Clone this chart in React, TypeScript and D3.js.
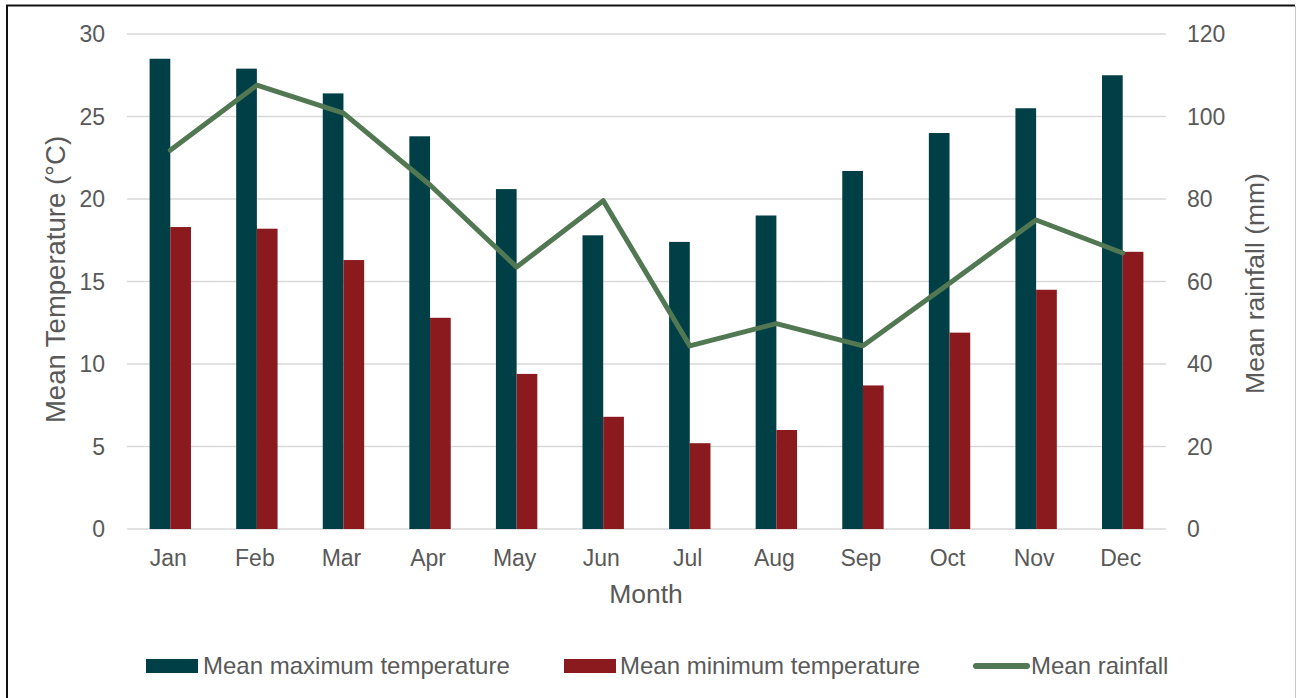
import React from "react";
import * as d3 from "d3";

const months = ["Jan", "Feb", "Mar", "Apr", "May", "Jun", "Jul", "Aug", "Sep", "Oct", "Nov", "Dec"];
const maxTemp = [28.5, 27.9, 26.4, 23.8, 20.6, 17.8, 17.4, 19.0, 21.7, 24.0, 25.5, 27.5];
const minTemp = [18.3, 18.2, 16.3, 12.8, 9.4, 6.8, 5.2, 6.0, 8.7, 11.9, 14.5, 16.8];
const rainfall = [91.8, 107.6, 100.8, 83.4, 63.5, 79.6, 44.4, 49.8, 44.4, 59.6, 74.9, 66.9];
const leftTicks = [0, 5, 10, 15, 20, 25, 30];
const rightTicks = [0, 20, 40, 60, 80, 100, 120];

const W = 1298;
const H = 698;
const plot = { left: 127, right: 1166, top: 34, bottom: 529 };
const FONT = "'Liberation Sans', Arial, sans-serif";
const TEXT = "#595959";
const C_MAX = "#013f46";
const C_MIN = "#8a1a1e";
const C_RAIN = "#517853";

export default function App() {
  const x = d3.scaleBand<string>().domain(months).range([plot.left, plot.right]).paddingInner(0).paddingOuter(0);
  const yL = d3.scaleLinear().domain([0, 30]).range([plot.bottom, plot.top]);
  const yR = d3.scaleLinear().domain([0, 120]).range([plot.bottom, plot.top]);
  const bw = x.bandwidth();
  const barW = bw * 0.239;
  const line = d3
    .line<number>()
    .x((_, i) => (x(months[i]) as number) + bw / 2)
    .y((d) => yR(d));

  const legY = 659;

  return (
    <div style={{ position: "fixed", left: 0, top: 0 }}>
      <svg width={W} height={H} style={{ display: "block", background: "#fff" }} fontFamily={FONT}>
        {/* frame */}
        <line x1={6} y1={5.5} x2={1295} y2={5.5} stroke="#111" strokeWidth={2} />
        <line x1={7} y1={5} x2={7} y2={H} stroke="#111" strokeWidth={2} />
        <line x1={1295.5} y1={6} x2={1295.5} y2={H} stroke="#c8c8c8" strokeWidth={1} />

        {/* gridlines */}
        {leftTicks.map((t) => (
          <line key={"g" + t} x1={plot.left} x2={plot.right} y1={yL(t)} y2={yL(t)} stroke="#d9d9d9" strokeWidth={1.5} />
        ))}

        {/* left tick labels */}
        {leftTicks.map((t) => (
          <text key={"l" + t} x={105} y={yL(t)} dy="0.35em" textAnchor="end" fontSize={23} fill={TEXT}>
            {t}
          </text>
        ))}
        {/* right tick labels */}
        {rightTicks.map((t) => (
          <text key={"r" + t} x={1187} y={yR(t)} dy="0.35em" textAnchor="start" fontSize={23} fill={TEXT}>
            {t}
          </text>
        ))}

        {/* bars */}
        {months.map((m, i) => {
          const cx = (x(m) as number) + bw / 2;
          return (
            <g key={m}>
              <rect x={cx - barW} y={yL(maxTemp[i])} width={barW} height={yL(0) - yL(maxTemp[i])} fill={C_MAX} />
              <rect x={cx} y={yL(minTemp[i])} width={barW} height={yL(0) - yL(minTemp[i])} fill={C_MIN} />
            </g>
          );
        })}

        {/* rainfall line */}
        <path d={line(rainfall) || ""} fill="none" stroke={C_RAIN} strokeWidth={5} strokeLinejoin="round" strokeLinecap="round" />

        {/* month labels */}
        {months.map((m) => (
          <text key={"m" + m} x={(x(m) as number) + bw / 2 - 2} y={566} textAnchor="middle" fontSize={23} fill={TEXT}>
            {m}
          </text>
        ))}

        {/* axis titles */}
        <text x={646} y={603} textAnchor="middle" fontSize={26.5} fill={TEXT}>
          Month
        </text>
        <text transform={`translate(65, ${(plot.top + plot.bottom) / 2 - 2}) rotate(-90)`} textAnchor="middle" fontSize={27.5} fill={TEXT}>
          Mean Temperature (°C)
        </text>
        <text transform={`translate(1264, ${(plot.top + plot.bottom) / 2 + 2}) rotate(-90)`} textAnchor="middle" fontSize={26.5} fill={TEXT}>
          Mean rainfall (mm)
        </text>

        {/* legend */}
        <rect x={146} y={legY} width={52} height={14} fill={C_MAX} />
        <text x={203} y={legY + 15} fontSize={24} fill={TEXT}>
          Mean maximum temperature
        </text>
        <rect x={564} y={legY} width={52} height={14} fill={C_MIN} />
        <text x={620} y={legY + 15} fontSize={24} fill={TEXT}>
          Mean minimum temperature
        </text>
        <line x1={976} x2={1027} y1={legY + 7} y2={legY + 7} stroke={C_RAIN} strokeWidth={6} strokeLinecap="round" />
        <text x={1031} y={legY + 15} fontSize={24} fill={TEXT}>
          Mean rainfall
        </text>
      </svg>
    </div>
  );
}
